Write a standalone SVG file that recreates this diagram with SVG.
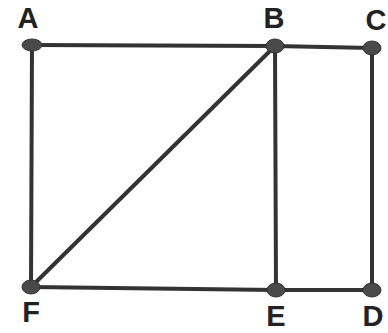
<svg xmlns="http://www.w3.org/2000/svg" width="388" height="333" viewBox="0 0 388 333">
<style>
.e{stroke:#333;stroke-width:4;stroke-linecap:round;fill:none}
.n{fill:#4a4a4a;stroke:#333;stroke-width:1}
.t{font-family:"Liberation Sans",Arial,sans-serif;font-weight:bold;font-size:29px;fill:#222;text-anchor:middle}
</style>
<rect width="388" height="333" fill="#fff"/>
<g id="edges">
<line class="e" x1="32" y1="45" x2="275" y2="46"/>
<line class="e" x1="275" y1="46" x2="372" y2="48"/>
<line class="e" x1="32" y1="45" x2="31" y2="287"/>
<line class="e" x1="275" y1="46" x2="276" y2="290"/>
<line class="e" x1="372" y1="48" x2="372" y2="290"/>
<line class="e" x1="275" y1="46" x2="31" y2="287"/>
<line class="e" x1="31" y1="287" x2="276" y2="290"/>
<line class="e" x1="276" y1="290" x2="372" y2="290"/>
</g>
<g id="A"><ellipse class="n" cx="32" cy="45" rx="10" ry="6"/><text class="t" x="28" y="28">A</text></g>
<g id="B"><ellipse class="n" cx="275" cy="46" rx="9" ry="7"/><text class="t" x="274" y="28">B</text></g>
<g id="C"><ellipse class="n" cx="372" cy="48" rx="9" ry="7"/><text class="t" x="376" y="30">C</text></g>
<g id="D"><ellipse class="n" cx="372" cy="290" rx="9" ry="7"/><text class="t" x="373" y="326">D</text></g>
<g id="E"><ellipse class="n" cx="276" cy="290" rx="9" ry="7"/><text class="t" x="276" y="326">E</text></g>
<g id="F"><ellipse class="n" cx="31" cy="287" rx="9" ry="7"/><text class="t" x="31" y="322">F</text></g>
</svg>
